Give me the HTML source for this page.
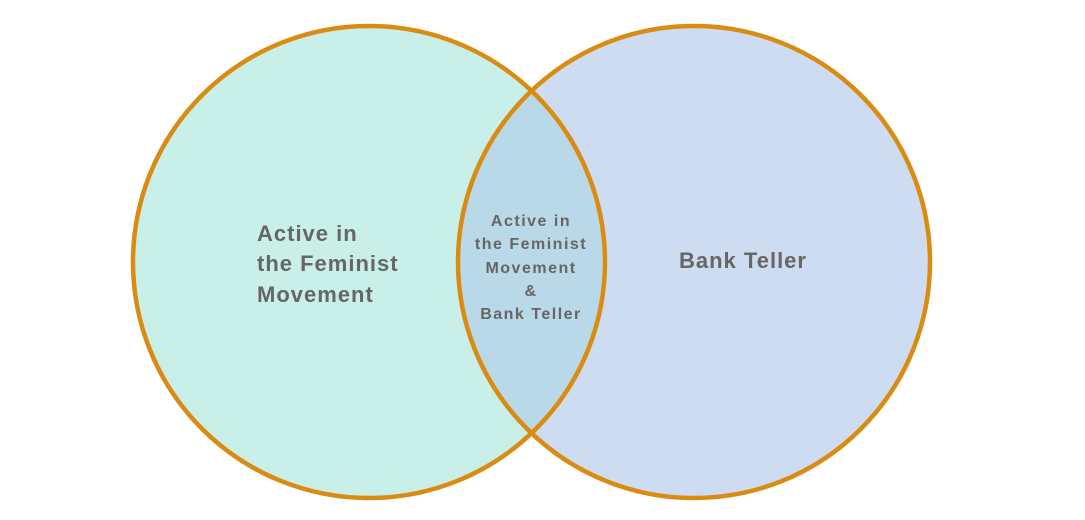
<!DOCTYPE html>
<html><head><meta charset="utf-8"><style>
html,body{margin:0;padding:0;background:#fff;}
svg{display:block;}
text{font-family:"Liberation Sans",sans-serif;font-weight:bold;fill:#666;}
</style></head><body>
<svg width="1085" height="520" viewBox="0 0 1085 520" xmlns="http://www.w3.org/2000/svg">
<defs>
<clipPath id="cl"><circle cx="369" cy="262" r="236"/></clipPath>
</defs>
<circle cx="369" cy="262" r="236" fill="#c9f0e8"/>
<circle cx="694" cy="262" r="236" fill="#cedcf1"/>
<circle cx="694" cy="262" r="236" fill="#b9d8e8" clip-path="url(#cl)"/>
<circle cx="369" cy="262" r="236" fill="none" stroke="#d98b12" stroke-width="4.5"/>
<circle cx="694" cy="262" r="236" fill="none" stroke="#d98b12" stroke-width="4.5"/>
<g font-size="22" letter-spacing="1">
<text x="257" y="241">Active in</text>
<text x="257" y="271">the Feminist</text>
<text x="257" y="302">Movement</text>
</g>
<text font-size="22" letter-spacing="1" x="743" y="268" text-anchor="middle">Bank Teller</text>
<g font-size="16" text-anchor="middle" letter-spacing="1.5">
<text x="531" y="226">Active in</text>
<text x="531" y="249">the Feminist</text>
<text x="531" y="273">Movement</text>
<text x="531" y="296">&amp;</text>
<text x="531" y="319">Bank Teller</text>
</g>
</svg>
</body></html>
